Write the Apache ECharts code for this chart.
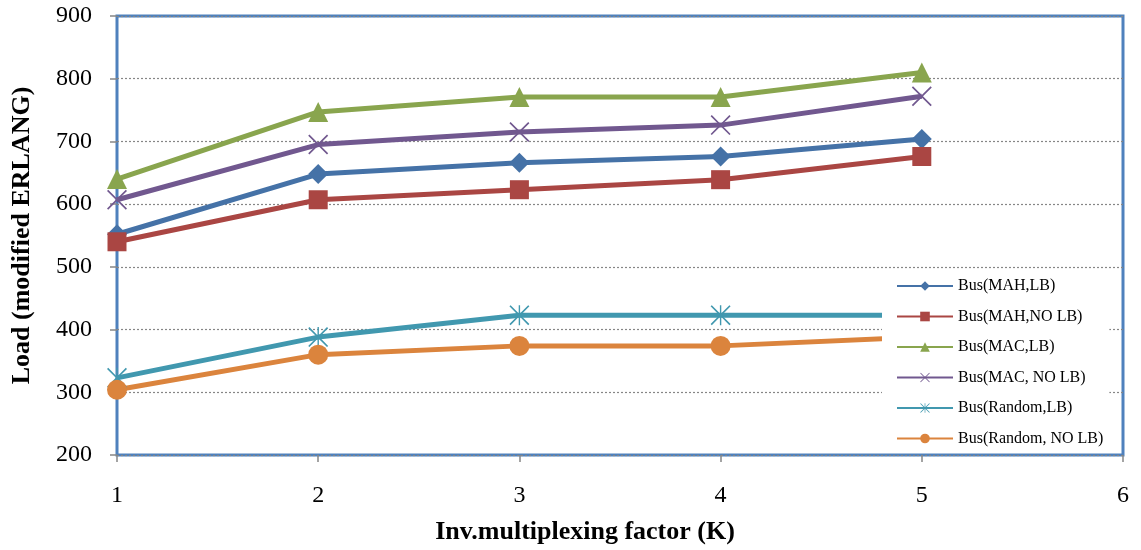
<!DOCTYPE html>
<html><head><meta charset="utf-8">
<script src="https://cdn.jsdelivr.net/npm/echarts@6/dist/echarts.min.js"></script>
<style>html,body{margin:0;padding:0;background:#fff}#c{width:1141px;height:550px}</style>
</head><body><div id="c"></div>
<script>
const xValues = [1, 2, 3, 4, 5];
const seriesNames = ['Bus(MAH,LB)', 'Bus(MAH,NO LB)', 'Bus(MAC,LB)', 'Bus(MAC, NO LB)', 'Bus(Random,LB)', 'Bus(Random, NO LB)'];
const mahLB = [552, 648, 666, 676, 704];
const mahNoLB = [540, 607, 623, 639, 676];
const macLB = [640, 747, 771, 771, 810];
const macNoLB = [607, 695, 715, 726, 772];
const randomLB = [323, 388, 423, 423, 423];
const randomNoLB = [304, 360, 374, 374, 388];
const yTicks = [200, 300, 400, 500, 600, 700, 800, 900];
const xTicks = [1, 2, 3, 4, 5, 6];

const colors = ['#4572A7', '#AA4643', '#89A54E', '#71588F', '#4198AF', '#DB843D'];
const xPath = 'path://M0,1.2 L1.2,0 L10,8.8 L18.8,0 L20,1.2 L11.2,10 L20,18.8 L18.8,20 L10,11.2 L1.2,20 L0,18.8 L8.8,10 Z';
const starPath = 'path://M0,1.2 L1.2,0 L10,8.8 L18.8,0 L20,1.2 L11.2,10 L20,18.8 L18.8,20 L10,11.2 L1.2,20 L0,18.8 L8.8,10 Z M9.3,0 L10.7,0 L10.7,20 L9.3,20 Z';
const symbols = ['diamond', 'rect', 'triangle', xPath, starPath, 'circle'];
const sizes = [20, 19, 20, 20, 20, 20];
const allData = [mahLB, mahNoLB, macLB, macNoLB, randomLB, randomNoLB];
const font = '"Liberation Serif","Times New Roman",serif';

const chart = echarts.init(document.getElementById('c'));
chart.setOption({
  animation: false,
  backgroundColor: '#fff',
  grid: { left: 117, right: 18, top: 16, bottom: 94, show: true, borderColor: '#4F81BD', borderWidth: 3, backgroundColor: 'transparent' },
  xAxis: {
    type: 'value', min: xTicks[0], max: xTicks[xTicks.length - 1], interval: 1,
    name: 'Inv.multiplexing factor (K)', nameLocation: 'middle', nameGap: 64,
    nameTextStyle: { fontFamily: font, fontSize: 26, fontWeight: 'bold', color: '#000', padding: [0, 70, 0, 0] },
    axisLine: { show: false },
    axisTick: { show: true, length: 7, inside: false, lineStyle: { color: '#868686', width: 1.5 } },
    axisLabel: { margin: 29, fontFamily: font, fontSize: 24, color: '#000' },
    splitLine: { show: false }
  },
  yAxis: {
    type: 'value', min: yTicks[0], max: yTicks[yTicks.length - 1], interval: 100,
    name: 'Load (modified ERLANG)', nameLocation: 'middle', nameGap: 82, nameRotate: 90,
    nameTextStyle: { fontFamily: font, fontSize: 26, fontWeight: 'bold', color: '#000' },
    axisLine: { show: false },
    axisTick: { show: true, length: 7, inside: false, lineStyle: { color: '#868686', width: 1.5 } },
    axisLabel: { margin: 25, fontFamily: font, fontSize: 24, color: '#000' },
    splitLine: { show: true, lineStyle: { color: '#868686', type: [2, 2], width: 1.2 } }
  },
  legend: {
    orient: 'vertical', left: 882, top: 270, z: 10,
    backgroundColor: '#fff', padding: [8, 6, 3, 14],
    itemWidth: 56, itemHeight: 12, itemGap: 14.5,
    textStyle: { fontFamily: font, fontSize: 16, color: '#000' },
    data: seriesNames
  },
  series: seriesNames.map((n, i) => ({
    name: n, type: 'line', z: 3,
    data: xValues.map((x, j) => [x, allData[i][j]]),
    symbol: symbols[i], symbolSize: sizes[i],
    lineStyle: { color: colors[i], width: 5 },
    itemStyle: { color: colors[i], borderWidth: 0 },
    color: colors[i]
  }))
});
</script></body></html>
